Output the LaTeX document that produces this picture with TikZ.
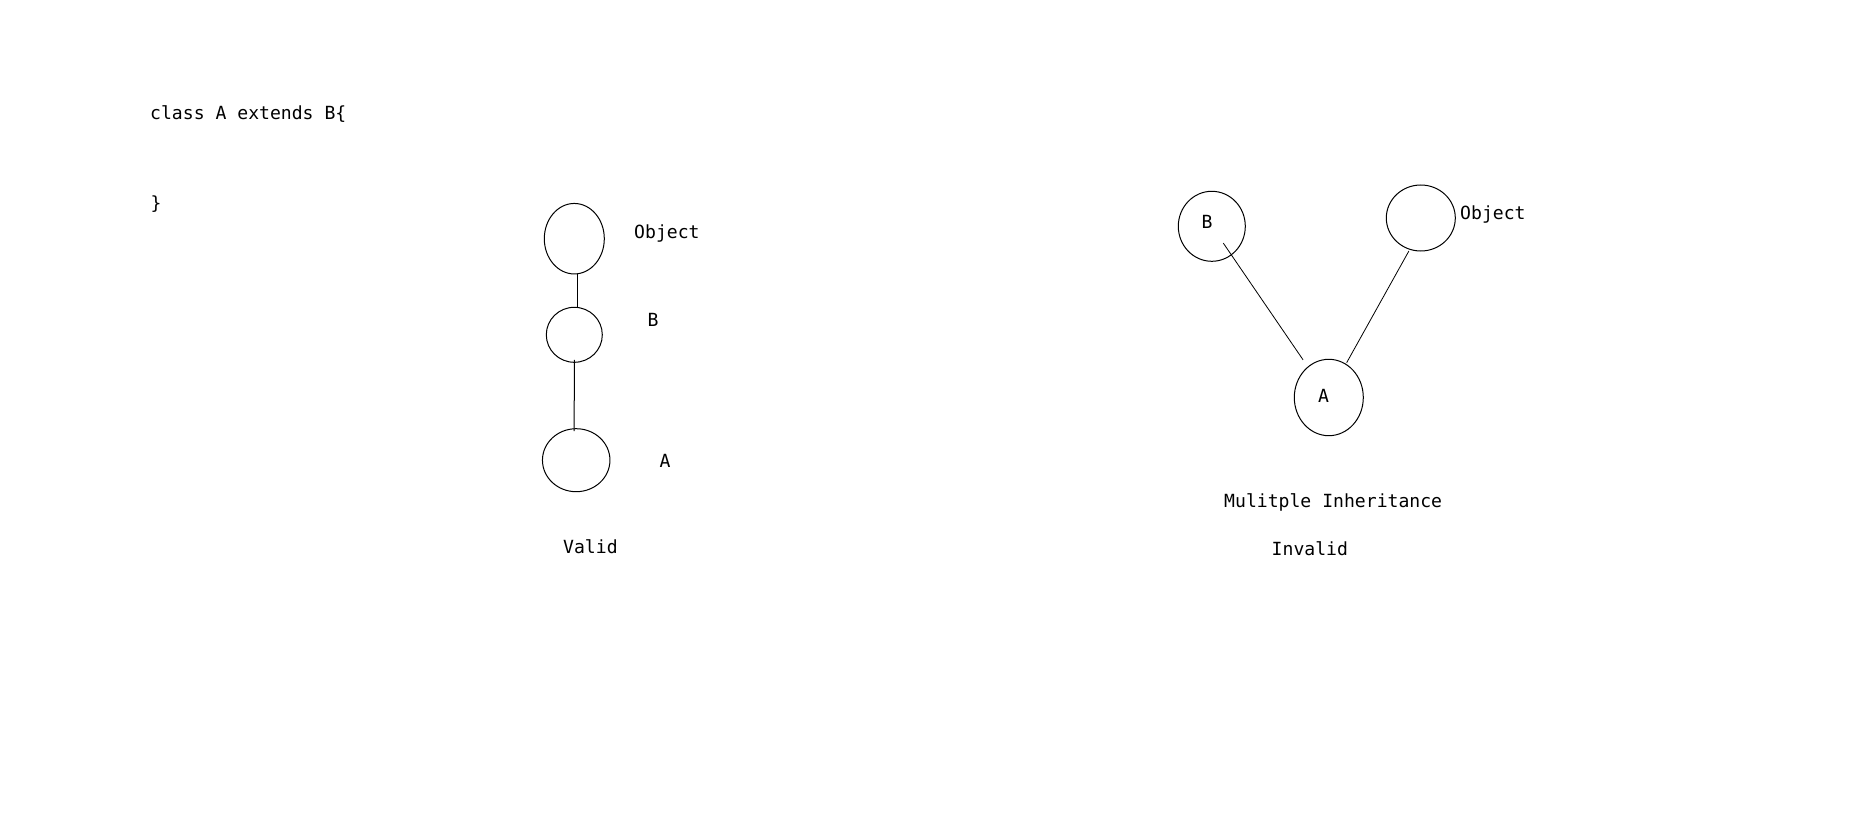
\documentclass[tikz,border=0pt]{standalone}
\usepackage{fontspec}
\setmonofont{DejaVu Sans Mono}
\usetikzlibrary{shapes.geometric,calc}
\begin{document}
\begin{tikzpicture}[x=1pt,y=-1pt,
  txt/.style={anchor=base west,inner sep=0pt,font=\ttfamily\fontsize{18.1}{22}\selectfont},
  circ/.style={draw,ellipse,inner sep=0pt,line width=1pt},
  conn/.style={line width=1pt}]
\fill[white] (0,0) rectangle (1874,829);
\useasboundingbox (0,0) rectangle (1874,829);
% code text
\node[txt] (code1) at (150,119.5) {class A extends B\{};
\node[txt] (code2) at (150.5,210) {\}};
% valid tree
\node[circ,minimum width=60pt,minimum height=70.5pt] (O1) at (574.3,238.7) {};
\node[circ,minimum width=56pt,minimum height=55pt] (B1) at (574.3,334.8) {};
\node[circ,minimum width=67.5pt,minimum height=63pt] (A1) at (576.2,460.2) {};
\node[txt] (lO1) at (634,238.5) {Object};
\node[txt] (lB1) at (647.5,326) {B};
\node[txt] (lA1) at (659.5,467.7) {A};
\node[txt] (lV) at (563,553.7) {Valid};
\draw[conn] ($(O1.south)+(3,0)$) -- ($(B1.north)+(3,0)$);
\draw[conn] ($(B1.south)+(0,-3)$) -- ($(A1.north)+(-2,3)$);
% invalid
\node[circ,minimum width=67pt,minimum height=70pt] (B2) at (1211.8,226.3) {};
\node[circ,minimum width=69pt,minimum height=66pt] (O2) at (1420.8,218) {};
\node[circ,minimum width=69pt,minimum height=76.4pt] (A2) at (1328.8,397.5) {};
\node[txt] (lB2) at (1201.5,228.7) {B};
\node[txt] (lO2) at (1460,219.7) {Object};
\node[txt] (lA2) at (1318,402) {A};
\node[txt] (lM) at (1224,507) {Mulitple Inheritance};
\node[txt] (lI) at (1271.5,555.3) {Invalid};
\draw[conn,line width=0.8pt] ($(B2.center)!0.098!(A2.center)$) -- ($(B2.center)!0.78!(A2.center)$);
\draw[conn,line width=0.8pt] ($(O2.center)!0.184!(A2.center)+(5,0)$) -- ($(O2.center)!0.806!(A2.center)$);
\end{tikzpicture}
\end{document}
